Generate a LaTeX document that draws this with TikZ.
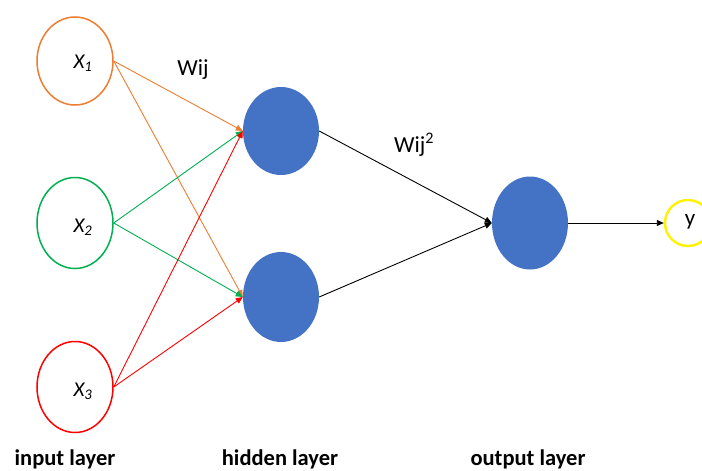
\documentclass[tikz,border=0pt]{standalone}
\usepackage{fontspec}
\setmainfont{Carlito}
\usetikzlibrary{arrows.meta,shapes.geometric}
\definecolor{inorange}{HTML}{ED7D31}
\definecolor{ingreen}{HTML}{00B050}
\definecolor{inred}{HTML}{FF0000}
\definecolor{cellblue}{HTML}{4472C4}
\definecolor{outyellow}{HTML}{FFF200}
\begin{document}
\begin{tikzpicture}[x=1pt,y=-1pt,
  inputcell/.style={draw,line width=1.5pt,ellipse,minimum width=76pt,minimum height=88pt,inner sep=0pt},
  cellname/.style={font=\fontsize{21}{23}\selectfont\itshape},
  neuron/.style={fill=cellblue,draw=none,ellipse,minimum width=76pt,minimum height=90pt,inner sep=0pt},
  link/.style={line width=0.9pt,-{Triangle[length=7pt,width=6pt]}},
  layerlabel/.style={font=\fontsize{22.5}{24}\selectfont\bfseries},
  weight/.style={font=\fontsize{23}{25}\selectfont}]
\useasboundingbox (0,0) rectangle (702,471);
% input layer
\node[inputcell,draw=inorange] (x1) at (75,61) {};
\node[inputcell,draw=ingreen,minimum height=91pt] (x2) at (75,223) {};
\node[inputcell,draw=inred,minimum height=91pt] (x3) at (75,387) {};
\node[cellname] (t1) at (83,63) {X\textsubscript{1}};
\node[cellname] (t2) at (83,227) {X\textsubscript{2}};
\node[cellname] (t3) at (83,391) {X\textsubscript{3}};
% hidden layer
\node[neuron,minimum height=88pt] (h1) at (281,131) {};
\node[neuron] (h2) at (281,297) {};
% output layer
\node[neuron,minimum height=93pt] (o) at (530,223) {};
\node[draw=outyellow,line width=2.4pt,circle,minimum size=46pt,inner sep=0pt] (y) at (688,223) {};
\node[weight] (ylabel) at (690,222) {y};
% weighted connections
\draw[link,inorange] (x1.east) -- (h1.west);
\draw[link,inorange] (x1.east) -- (h2.west);
\draw[link,ingreen] (x2.east) -- (h1.west);
\draw[link,ingreen] (x2.east) -- (h2.west);
\draw[link,inred] (x3.east) -- (h1.west);
\draw[link,inred] (x3.east) -- (h2.west);
\draw[link,black] (h1.east) -- (o.west);
\draw[link,black] (h2.east) -- (o.west);
\draw[link,black] (o.east) -- (y.west);
% labels
\node[weight] (w1) at (193,70) {Wij};
\node[weight] (w2) at (414,145) {Wij\textsuperscript{2}};
\node[layerlabel] (l1) at (65,459) {input layer};
\node[layerlabel] (l2) at (280,459) {hidden layer};
\node[layerlabel] (l3) at (528,459) {output layer};
\end{tikzpicture}
\end{document}
